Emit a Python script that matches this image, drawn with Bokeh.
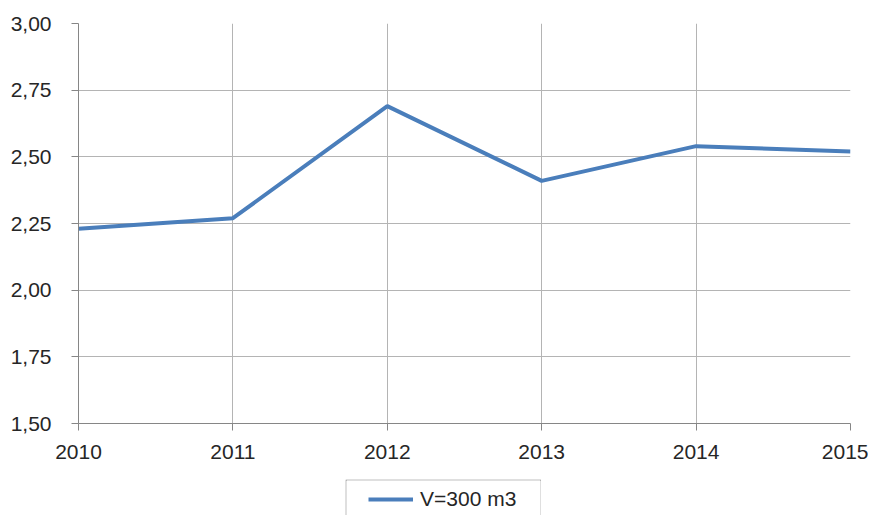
from bokeh.plotting import figure
from bokeh.models import Range1d, FixedTicker, CustomJSTickFormatter, Legend, LegendItem, Spacer
from bokeh.layouts import column, row
from bokeh.embed import file_html
from bokeh.resources import INLINE

years = [2010, 2011, 2012, 2013, 2014, 2015]
values = [2.23, 2.27, 2.69, 2.41, 2.54, 2.52]
series_name = "V=300 m3"
y_ticks = [1.50, 1.75, 2.00, 2.25, 2.50, 2.75, 3.00]

LINE_COLOR = "#4a7ebb"
font = "Liberation Sans"

p = figure(width=868, height=479, output_backend="svg", toolbar_location=None,
           x_range=Range1d(2010, 2015), y_range=Range1d(1.5, 3.0),
           min_border_left=78, min_border_top=23, min_border_right=18, min_border_bottom=56)
p.outline_line_color = None
p.background_fill_color = "white"
p.border_fill_color = "white"

r = p.line(years, values, line_color=LINE_COLOR, line_width=4)

for ax in (p.xaxis[0], p.yaxis[0]):
    ax.axis_line_color = "#868686"
    ax.major_tick_line_color = "#868686"
    ax.major_tick_out = 7
    ax.major_tick_in = 0
    ax.minor_tick_line_color = None
    ax.major_label_text_font = font
    ax.major_label_text_font_size = "21px"
    ax.major_label_text_color = "#262626"

p.xaxis[0].ticker = FixedTicker(ticks=years)
p.xaxis[0].formatter = CustomJSTickFormatter(code="return tick.toFixed(0);")
p.xaxis[0].major_label_standoff = 14
p.yaxis[0].ticker = FixedTicker(ticks=y_ticks)
p.yaxis[0].formatter = CustomJSTickFormatter(code="return tick.toFixed(2).replace('.', ',');")
p.yaxis[0].major_label_standoff = 20

p.xgrid[0].grid_line_color = "#b4b4b4"
p.ygrid[0].grid_line_color = "#b4b4b4"
p.xgrid[0].ticker = FixedTicker(ticks=years)
p.ygrid[0].ticker = FixedTicker(ticks=y_ticks)

# legend box: its own small figure; the 1px gray border fill forms the box,
# left open at the bottom like the cropped reference
lg = figure(width=196, height=36, output_backend="svg", toolbar_location=None,
            x_range=Range1d(0, 1), y_range=Range1d(0, 1),
            min_border_left=1, min_border_top=1, min_border_right=1, min_border_bottom=0)
lg.axis.visible = False
lg.grid.visible = False
lg.outline_line_color = None
lg.background_fill_color = "white"
lg.border_fill_color = "#7f7f7f"
# same series, outside this small figure's ranges: only its legend swatch shows
r2 = lg.line(years, values, line_color=LINE_COLOR, line_width=4)
legend = Legend(items=[LegendItem(label=series_name, renderers=[r2])],
                location=(22, 4), margin=0, padding=0, glyph_width=45,
                label_standoff=7, border_line_color=None, background_fill_alpha=0,
                label_text_font=font, label_text_font_size="21px",
                label_text_color="#262626")
lg.add_layout(legend, "center")

layout = column(p, row(Spacer(width=345, height=36), lg))
open("out.html", "w").write(file_html(layout, INLINE))
